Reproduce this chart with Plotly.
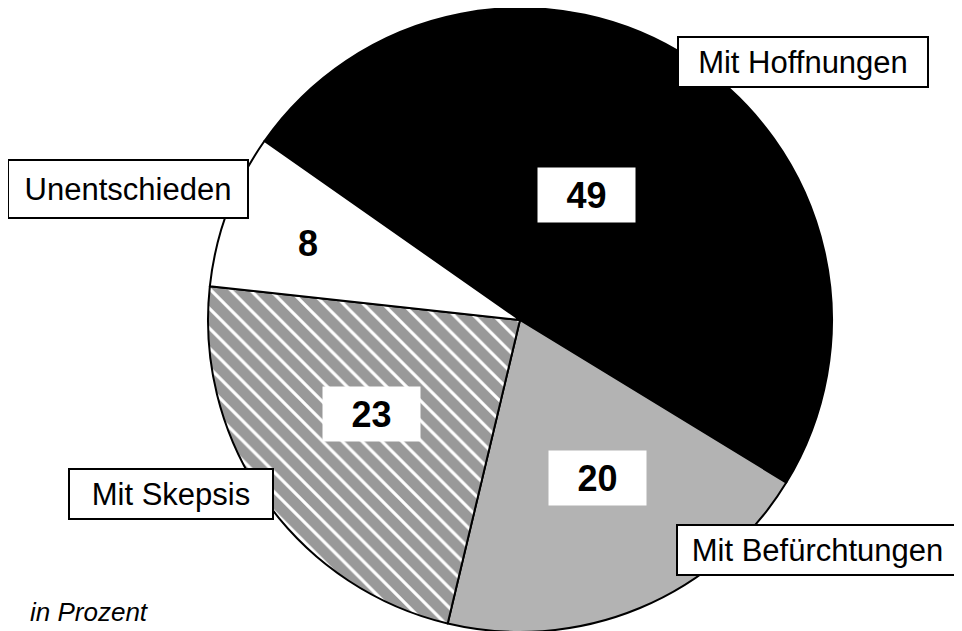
import plotly.graph_objects as go

categories = ["Mit Hoffnungen", "Mit Befürchtungen", "Mit Skepsis", "Unentschieden"]
values = [49, 20, 23, 8]
value_labels = ["49", "20", "23", "8"]
footnote = "in Prozent"

W, H = 962, 631
OFF = 8  # page body margin offset

fig = go.Figure(go.Pie(
    labels=categories,
    values=values,
    sort=False,
    direction="clockwise",
    rotation=-55,
    textinfo="none",
    hoverinfo="skip",
    showlegend=False,
    marker=dict(
        colors=["#000000", "#b3b3b3", "#999999", "#ffffff"],
        line=dict(color="#000000", width=2),
        pattern=dict(
            shape=["", "", "\\", ""],
            fgcolor=["#000000", "#b3b3b3", "#ffffff", "#ffffff"],
            bgcolor=["#000000", "#b3b3b3", "#999999", "#ffffff"],
            size=14,
            solidity=0.22,
        ),
    ),
    domain=dict(x=[(208 - OFF) / W, (832 - OFF) / W], y=[1 - (632 - OFF) / H, 1 - (8 - OFF) / H]),
))

def px(x, y):
    return (x - OFF) / W, 1 - (y - OFF) / H

anns = []
label_boxes = [
    (0, 803, 62.5, 250, 50),
    (1, 817.5, 550, 281, 50),
    (2, 171, 494, 204, 50),
    (3, 128, 189, 240, 58),
]
for i, cx, cy, w, h in label_boxes:
    x, y = px(cx, cy)
    anns.append(dict(
        x=x, y=y, xref="paper", yref="paper", xanchor="center", yanchor="middle",
        text=categories[i], showarrow=False,
        font=dict(family="Liberation Sans, Arial, sans-serif", size=31, color="#000000"),
        bgcolor="#ffffff", bordercolor="#000000", borderwidth=2, borderpad=0,
        width=w - 2, height=h - 2,
    ))

value_boxes = [
    (0, 586.5, 195, 97, 54, True),
    (1, 597.5, 478, 97, 54, True),
    (2, 371.5, 414, 97, 54, True),
    (3, 308, 243, 60, 40, False),
]
for i, cx, cy, w, h, boxed in value_boxes:
    x, y = px(cx, cy)
    anns.append(dict(
        x=x, y=y, xref="paper", yref="paper", xanchor="center", yanchor="middle",
        text="<b>" + value_labels[i] + "</b>", showarrow=False,
        font=dict(family="Liberation Sans, Arial, sans-serif", size=36, color="#000000"),
        bgcolor="#ffffff" if boxed else "rgba(0,0,0,0)", borderpad=0,
        width=w, height=h,
    ))

x, y = px(89, 612)
anns.append(dict(
    x=x, y=y, xref="paper", yref="paper", xanchor="center", yanchor="middle",
    text="<i>" + footnote + "</i>", showarrow=False,
    font=dict(family="Liberation Sans, Arial, sans-serif", size=26, color="#000000"),
))

fig.update_layout(
    width=W, height=H,
    margin=dict(l=0, r=0, t=0, b=0),
    paper_bgcolor="#ffffff",
    plot_bgcolor="#ffffff",
    annotations=anns,
)

fig.write_html("out.html")
